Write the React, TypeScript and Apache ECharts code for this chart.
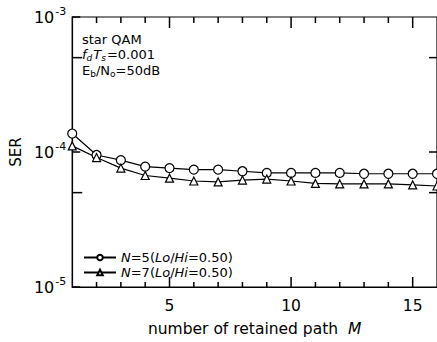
import React, { useEffect, useRef } from "react";
import * as echarts from "echarts";

const pathCounts = [1, 2, 3, 4, 5, 6, 7, 8, 9, 10, 11, 12, 13, 14, 15, 16];
const serN5 = [1.37e-4, 0.95e-4, 0.87e-4, 0.78e-4, 0.76e-4, 0.74e-4, 0.74e-4, 0.72e-4, 0.7e-4, 0.7e-4, 0.7e-4, 0.7e-4, 0.69e-4, 0.69e-4, 0.69e-4, 0.69e-4];
const serN7 = [1.11e-4, 0.91e-4, 0.76e-4, 0.67e-4, 0.64e-4, 0.61e-4, 0.6e-4, 0.62e-4, 0.63e-4, 0.61e-4, 0.585e-4, 0.58e-4, 0.58e-4, 0.58e-4, 0.57e-4, 0.56e-4];
const xMinorTicks = [2, 3, 4, 6, 7, 8, 9, 11, 12, 13, 14];
const xMajorTicks = [5, 10, 15];
const yDecadeTicks = [1e-5, 1e-4, 1e-3];
const yMinorTicks = [5e-4, 5e-5];
const yRightTicks = [5e-4, 1e-4, 5e-5];

const X_MIN = 1;
const X_MAX = 16;
const Y_MIN = 1e-5;
const Y_MAX = 1e-3;

const FONT = "DejaVu Sans";

export default function App() {
  const ref = useRef<HTMLDivElement>(null);
  useEffect(() => {
    document.body.style.margin = "0";
    if (!ref.current) return;
    const chart = echarts.init(ref.current, null, { renderer: "svg" });
    const black = "#000";
    const toPair = (arr: number[]) => pathCounts.map((x, i) => [x, arr[i]]);
    const tickSeries = (name: string, data: number[][], dx: number, dy: number) => ({
      name,
      type: "custom",
      coordinateSystem: "cartesian2d",
      xAxisIndex: 0,
      yAxisIndex: 0,
      silent: true,
      clip: false,
      z: 5,
      data,
      renderItem: (_params: any, api: any) => {
        const p = api.coord([api.value(0), api.value(1)]);
        return {
          type: "line",
          shape: { x1: p[0], y1: p[1], x2: p[0] + dx, y2: p[1] + dy },
          style: { stroke: black, lineWidth: 1.5, fill: null },
        };
      },
    });
    chart.setOption({
      animation: false,
      backgroundColor: "#fff",
      textStyle: { fontFamily: FONT, color: black },
      grid: { left: 68, top: 17, right: 0, bottom: 47, show: true, borderColor: black, borderWidth: 1.2, backgroundColor: "transparent" },
      xAxis: {
        type: "value",
        min: X_MIN,
        max: X_MAX,
        splitLine: { show: false },
        axisLine: { show: true, lineStyle: { color: black, width: 1.2 } },
        axisTick: { show: false },
        axisLabel: { show: true, customValues: xMajorTicks, fontSize: 15.5, color: black, fontFamily: FONT, margin: 11 },
        name: "{t|number of retained path  }{i|M}",
        nameLocation: "middle",
        nameGap: 34,
        nameTextStyle: {
          rich: {
            t: { fontFamily: FONT, fontSize: 15.5, color: black },
            i: { fontFamily: FONT, fontSize: 15.5, fontStyle: "italic", color: black },
          },
        },
      },
      yAxis: {
        type: "log",
        logBase: 10,
        min: Y_MIN,
        max: Y_MAX,
        splitLine: { show: false },
        axisLine: { show: true, lineStyle: { color: black, width: 1.2 } },
        axisTick: { show: false },
        axisLabel: {
          show: true,
          customValues: yDecadeTicks,
          margin: 6,
          formatter: (v: number) => `{b|10}{s|${Math.round(Math.log10(v))}}`,
          rich: {
            b: { fontFamily: FONT, fontSize: 16, color: black },
            s: { fontFamily: FONT, fontSize: 11, color: black, padding: [0, 0, 11, 1] },
          },
        },
        name: "SER",
        nameLocation: "middle",
        nameRotate: 90,
        nameGap: 37,
        nameTextStyle: { fontFamily: FONT, fontSize: 15, color: black },
      },
      legend: {
        orient: "vertical",
        left: 78,
        top: 246,
        itemWidth: 32,
        itemHeight: 7,
        itemGap: 2,
        textStyle: {
          fontFamily: FONT,
          fontSize: 13,
          color: black,
          rich: {
            i: { fontFamily: FONT, fontSize: 13, fontStyle: "italic", color: black },
          },
        },
        formatter: (name: string) =>
          name.replace(/^N/, "{i|N}").replace("Lo", "{i|Lo}").replace("Hi", "{i|Hi}"),
        data: ["N=5(Lo/Hi=0.50)", "N=7(Lo/Hi=0.50)"],
      },
      graphic: [
        {
          type: "text",
          left: 82,
          top: 33,
          style: { text: "star QAM", font: `13px "${FONT}"`, fill: black },
        },
        {
          type: "text",
          left: 82,
          top: 48,
          style: {
            text: "{i|f}{sb|d}{i|T}{sb|s}{n|=0.001}",
            rich: {
              i: { fontFamily: FONT, fontSize: 13, fontStyle: "italic", fill: black },
              sb: { fontFamily: FONT, fontSize: 9, fontStyle: "italic", fill: black, padding: [7, 1, 0, 0] },
              n: { fontFamily: FONT, fontSize: 13, fill: black },
            },
          },
        },
        {
          type: "text",
          left: 82,
          top: 64,
          style: {
            text: "{n|E}{sb|b}{n|/N}{sb|o}{n|=50dB}",
            rich: {
              sb: { fontFamily: FONT, fontSize: 9, fill: black, padding: [7, 0, 0, 0] },
              n: { fontFamily: FONT, fontSize: 13, fill: black },
            },
          },
        },
      ],
      series: [
        tickSeries("tb1", xMinorTicks.map((v) => [v, Y_MIN]), 0, -5),
        tickSeries("tb2", xMajorTicks.map((v) => [v, Y_MIN]), 0, -10),
        tickSeries("tt1", xMinorTicks.map((v) => [v, Y_MAX]), 0, 6),
        tickSeries("tt2", xMajorTicks.map((v) => [v, Y_MAX]), 0, 11),
        tickSeries("tl1", yDecadeTicks.map((v) => [X_MIN, v]), 8, 0),
        tickSeries("tl2", yMinorTicks.map((v) => [X_MIN, v]), 10, 0),
        tickSeries("tr1", yRightTicks.map((v) => [X_MAX, v]), -8, 0),
        {
          name: "N=5(Lo/Hi=0.50)",
          type: "line",
          data: toPair(serN5),
          symbol: "circle",
          symbolSize: 9,
          clip: false,
          z: 3,
          lineStyle: { color: black, width: 1.2 },
          itemStyle: { color: "#fff", borderColor: black, borderWidth: 1.2 },
        },
        {
          name: "N=7(Lo/Hi=0.50)",
          type: "line",
          data: toPair(serN7),
          symbol: "triangle",
          symbolSize: 8,
          clip: false,
          z: 3,
          lineStyle: { color: black, width: 1.2 },
          itemStyle: { color: "#fff", borderColor: black, borderWidth: 1.2 },
        },
      ],
    });
    return () => chart.dispose();
  }, []);
  return <div ref={ref} style={{ width: 437, height: 342 }} />;
}
